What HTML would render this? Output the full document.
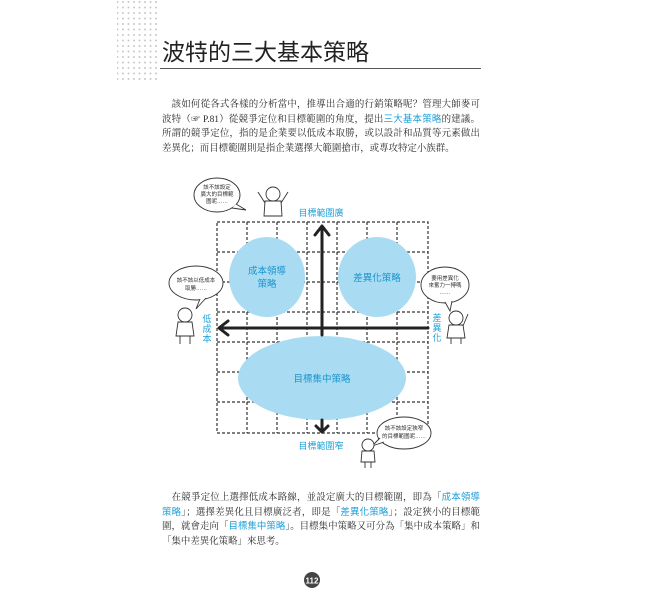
<!DOCTYPE html>
<html><head><meta charset="utf-8"><style>
html,body{margin:0;padding:0;background:#fff;}
body{width:655px;height:609px;position:relative;overflow:hidden;font-family:"Liberation Serif","Noto Serif CJK SC","Noto Sans CJK TC",serif;}
.p{position:absolute;left:162px;width:318px;font-size:9.45px;line-height:14.5px;color:#2a2a2a;text-align:justify;}
.b{color:#1ea0d8;font-family:"Liberation Sans","Noto Sans CJK TC",sans-serif;}
</style></head><body>
<svg width="655" height="609" style="position:absolute;left:0;top:0" font-family="Liberation Sans, Noto Sans CJK TC, sans-serif">
<defs><pattern id="d" width="5.5" height="5.5" patternUnits="userSpaceOnUse"><circle cx="2" cy="2" r="1" fill="#c8c8c8"/></pattern></defs>
<rect x="117" y="0" width="40" height="82" fill="url(#d)"/>
<text x="162" y="60" font-size="23" fill="#222">波特的三大基本策略</text>
<line x1="160" y1="68.5" x2="481" y2="68.5" stroke="#555" stroke-width="1"/>
<g stroke="#333" stroke-width="1.2" stroke-dasharray="3,2" fill="none">
<rect x="217" y="222" width="211" height="211"/>
<line x1="247" y1="222" x2="247" y2="433"/><line x1="277" y1="222" x2="277" y2="433"/><line x1="307" y1="222" x2="307" y2="433"/><line x1="337" y1="222" x2="337" y2="433"/><line x1="367" y1="222" x2="367" y2="433"/><line x1="397" y1="222" x2="397" y2="433"/>
<line x1="217" y1="252" x2="428" y2="252"/><line x1="217" y1="282" x2="428" y2="282"/><line x1="217" y1="312" x2="428" y2="312"/><line x1="217" y1="342" x2="428" y2="342"/><line x1="217" y1="372" x2="428" y2="372"/><line x1="217" y1="402" x2="428" y2="402"/>
</g>
<ellipse cx="267" cy="277" rx="38" ry="40" fill="#a9dcf3"/>
<ellipse cx="377" cy="277" rx="39" ry="40" fill="#a9dcf3"/>
<ellipse cx="322" cy="378" rx="84" ry="42" fill="#a9dcf3"/>
<g stroke="#222" stroke-width="3" fill="none" stroke-linecap="round" stroke-linejoin="round">
<line x1="322" y1="228" x2="322" y2="335"/><polyline points="315,235 322,226 329,235"/>
<line x1="428" y1="328" x2="220" y2="328"/><polyline points="228,321 219,328 228,335"/>
<line x1="322" y1="420" x2="322" y2="432"/><polyline points="316,426 322,432 328,426"/>
</g>
<g fill="#1a94cc" font-size="9.5" text-anchor="middle">
<text x="267" y="274">成本領導</text><text x="267" y="287">策略</text>
<text x="377" y="281">差異化策略</text>
<text x="322" y="382">目標集中策略</text>
</g>
<g fill="#1ea0d8" font-size="9" text-anchor="middle">
<text x="321" y="216">目標範圍廣</text>
<text x="321" y="449">目標範圍窄</text>
<text x="207" y="322">低</text><text x="207" y="332">成</text><text x="207" y="342">本</text>
<text x="437" y="321">差</text><text x="437" y="331">異</text><text x="437" y="341">化</text>
</g>
<g fill="#fff" stroke="#333" stroke-width="0.9">
<ellipse cx="217" cy="195" rx="23" ry="17"/><path d="M236,204 L246,210 L232,208"/>
<ellipse cx="196" cy="283" rx="27" ry="17"/><path d="M200,299 L196,309 L206,298"/>
<ellipse cx="445" cy="285" rx="24" ry="18"/><path d="M445,302 L450,311 L452,301"/>
<ellipse cx="404" cy="433" rx="27" ry="16"/><path d="M380,438 L372,446 L384,442"/>
</g>
<g fill="#333" font-size="5.5" text-anchor="middle">
<text x="217" y="189">該不該設定</text><text x="217" y="196">廣大的目標範</text><text x="217" y="203">圍呢……</text>
<text x="196" y="282">該不該以低成本</text><text x="196" y="290">取勝……</text>
<text x="445" y="280">要用差異化</text><text x="445" y="287">來奮力一搏嗎</text><text x="445" y="294">……</text>
<text x="404" y="430">該不該設定狹窄</text><text x="404" y="438">的目標範圍呢……</text>
</g>
<g fill="#fff" stroke="#333" stroke-width="0.9">
<circle cx="273" cy="194" r="7"/><path d="M265,201 L281,201 L282,216 L264,216Z"/><path d="M265,203 L258,192 M281,203 L288,192"/>
<circle cx="185" cy="315" r="7"/><path d="M178,322 L192,322 L194,336 L176,336Z"/><path d="M180,336 L180,344 M190,336 L190,344"/>
<circle cx="456" cy="318" r="7"/><path d="M449,325 L463,325 L465,338 L447,338Z"/><path d="M463,326 L468,314 M451,338 L451,344 M461,338 L461,344"/>
<circle cx="368" cy="445" r="6"/><path d="M362,451 L374,451 L375,462 L361,462Z"/><path d="M365,462 L365,468 M371,462 L371,468"/>
</g>
<circle cx="312" cy="580" r="8" fill="#444"/>
<text x="312" y="583.5" font-size="8" font-weight="bold" fill="#fff" text-anchor="middle">112</text>
</svg>
<div class="p" style="top:98px">　該如何從各式各樣的分析當中，推導出合適的行銷策略呢？管理大師麥可波特（☞ P.81）從競爭定位和目標範圍的角度，提出<span class="b">三大基本策略</span>的建議。所謂的競爭定位，指的是企業要以低成本取勝，或以設計和品質等元素做出差異化；而目標範圍則是指企業選擇大範圍搶市，或專攻特定小族群。</div>
<div class="p" style="top:491px">　在競爭定位上選擇低成本路線，並設定廣大的目標範圍，即為「<span class="b">成本領導策略</span>」；選擇差異化且目標廣泛者，即是「<span class="b">差異化策略</span>」；設定狹小的目標範圍，就會走向「<span class="b">目標集中策略</span>」。目標集中策略又可分為「集中成本策略」和「集中差異化策略」來思考。</div>
</body></html>
